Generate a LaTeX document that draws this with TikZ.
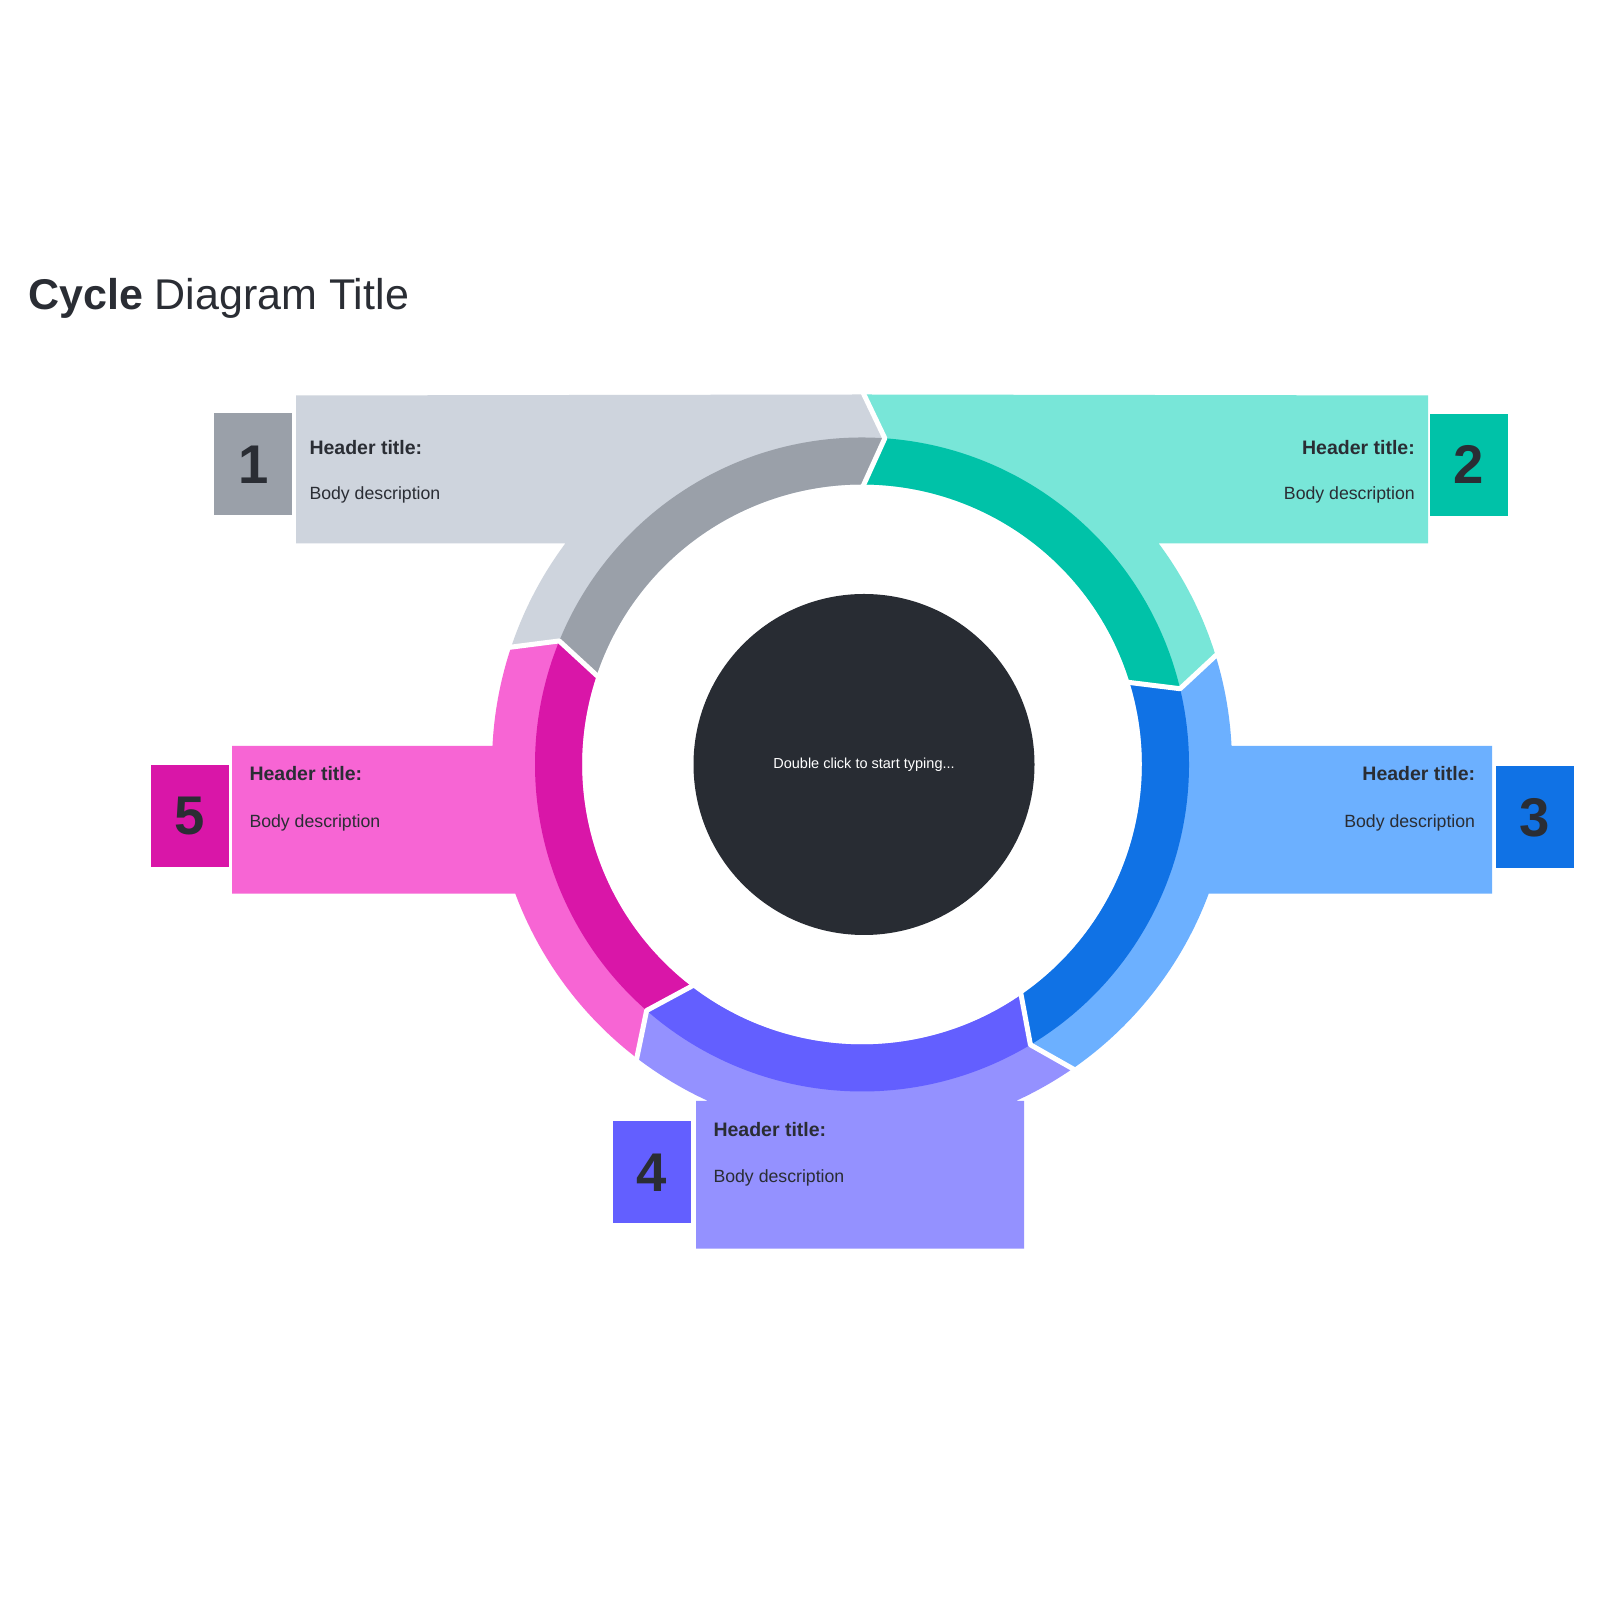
\documentclass[tikz,border=0pt]{standalone}
\usepackage{fontspec}
\setmainfont{Liberation Sans}
\usetikzlibrary{calc}
\definecolor{grayL}{HTML}{CED4DD}
\definecolor{grayD}{HTML}{9AA0A9}
\definecolor{tealL}{HTML}{78E6D8}
\definecolor{tealD}{HTML}{00C2A8}
\definecolor{blueL}{HTML}{6CB0FF}
\definecolor{blueD}{HTML}{1072E5}
\definecolor{purpL}{HTML}{9491FF}
\definecolor{purpD}{HTML}{635FFF}
\definecolor{magL}{HTML}{F765D4}
\definecolor{magD}{HTML}{D916A8}
\definecolor{hub}{HTML}{282C33}
\definecolor{txt}{HTML}{2A2D34}
\begin{document}
\begin{tikzpicture}[x=1pt,y=1pt,
  gapline/.style={draw=white, line width=5pt, line join=round},
  numbox/.style={minimum width=78pt, minimum height=102pt, inner sep=0pt,
    font=\fontsize{54.5}{60}\selectfont\bfseries, text=txt},
  hdr/.style={inner sep=0pt, font=\fontsize{19.5}{23}\selectfont\bfseries, text=txt},
  bdy/.style={inner sep=0pt, font=\fontsize{17.7}{21}\selectfont, text=txt}]
\useasboundingbox (0,0) rectangle (1600,1600);
\fill[white] (0,0) rectangle (1600,1600);

\begin{scope}[shift={(862,835.5)}]
% segment 1 (gray)
\fill[grayL] (161.8:280pt) -- (157.8:327pt) -- (161.8:370pt)
  arc[start angle=161.8, end angle=143.32, radius=370pt]
  -- (-566,221) -- (-566,369) -- (90:370pt) -- (86:327pt) -- (90:280pt)
  arc[start angle=90, end angle=161.8, radius=280pt] -- cycle;
\fill[grayD] (161.8:280pt) -- (157.8:327pt)
  arc[start angle=157.8, end angle=86, radius=327pt] -- (90:280pt)
  arc[start angle=90, end angle=161.8, radius=280pt] -- cycle;
% segment 2 (teal)
\fill[tealL] (90:280pt) -- (86:327pt) -- (90:370pt) -- (566,369) -- (566,221)
  -- (36.68:370pt) arc[start angle=36.68, end angle=17.4, radius=370pt]
  -- (13.4:327pt) -- (17.4:280pt)
  arc[start angle=17.4, end angle=90, radius=280pt] -- cycle;
\fill[tealD] (90:280pt) -- (86:327pt)
  arc[start angle=86, end angle=13.4, radius=327pt] -- (17.4:280pt)
  arc[start angle=17.4, end angle=90, radius=280pt] -- cycle;
% segment 3 (blue)
\fill[blueL] (17.4:280pt) -- (13.4:327pt) -- (17.4:370pt)
  arc[start angle=17.4, end angle=2.866, radius=370pt]
  -- (630,18.5) -- (630,-129.2) -- (-20.44:370pt)
  arc[start angle=-20.44, end angle=-55, radius=370pt]
  -- (-59:327pt) -- (-55:280pt)
  arc[start angle=-55, end angle=17.4, radius=280pt] -- cycle;
\fill[blueD] (17.4:280pt) -- (13.4:327pt)
  arc[start angle=13.4, end angle=-59, radius=327pt] -- (-55:280pt)
  arc[start angle=-55, end angle=17.4, radius=280pt] -- cycle;
% segment 4 (purple)
\fill[purpL] (-55:280pt) -- (-59:327pt) -- (-55:370pt)
  arc[start angle=-55, end angle=-65.42, radius=370pt]
  -- (162,-336.5) -- (162,-484.2) -- (-166,-484.2) -- (-166,-336.5)
  -- (-114.58:370pt) arc[start angle=-114.58, end angle=-127.2, radius=370pt]
  -- (-131.2:327pt) -- (-127.2:280pt)
  arc[start angle=-127.2, end angle=-55, radius=280pt] -- cycle;
\fill[purpD] (-55:280pt) -- (-59:327pt)
  arc[start angle=-59, end angle=-131.2, radius=327pt] -- (-127.2:280pt)
  arc[start angle=-127.2, end angle=-55, radius=280pt] -- cycle;
% segment 5 (magenta)
\fill[magL] (232.8:280pt) -- (228.8:327pt) -- (232.8:370pt)
  arc[start angle=232.8, end angle=200.44, radius=370pt]
  -- (-630,-129.2) -- (-630,18.5) -- (177.134:370pt)
  arc[start angle=177.134, end angle=161.8, radius=370pt]
  -- (157.8:327pt) -- (161.8:280pt)
  arc[start angle=161.8, end angle=232.8, radius=280pt] -- cycle;
\fill[magD] (232.8:280pt) -- (228.8:327pt)
  arc[start angle=228.8, end angle=157.8, radius=327pt] -- (161.8:280pt)
  arc[start angle=161.8, end angle=232.8, radius=280pt] -- cycle;
% white gaps
\draw[gapline] (90:276pt) -- (86:327pt) -- (90:374pt);
\draw[gapline] (17.4:276pt) -- (13.4:327pt) -- (17.4:374pt);
\draw[gapline] (-55:276pt) -- (-59:327pt) -- (-55:374pt);
\draw[gapline] (-127.2:276pt) -- (-131.2:327pt) -- (-127.2:374pt);
\draw[gapline] (161.8:276pt) -- (157.8:327pt) -- (161.8:374pt);
\end{scope}

% hub
\node[circle, fill=hub, minimum size=341pt, inner sep=0pt, text=white,
  font=\fontsize{14.5}{17}\selectfont] (hubc) at (864,835.5) {Double click to start typing...};

% title
\node[anchor=base west, inner sep=0pt, text=txt, font=\fontsize{43}{50}\selectfont]
  (title) at (28,1290.7) {\textbf{Cycle} Diagram Title};

% number boxes
\node[numbox, fill=grayD] (n1) at (253.3,1135.5) {1};
\node[numbox, fill=tealD] (n2) at (1468.9,1135.1) {2};
\node[numbox, fill=blueD] (n3) at (1535,782.7) {3};
\node[numbox, fill=purpD] (n4) at (652,427.5) {4};
\node[numbox, fill=magD] (n5) at (190,784.2) {5};

% texts
\node[hdr, anchor=base west] (h1) at (309.3,1145.7) {Header title:};
\node[bdy, anchor=base west] (b1) at (309.3,1100) {Body description};
\node[hdr, anchor=base east] (h2) at (1415,1145.3) {Header title:};
\node[bdy, anchor=base east] (b2) at (1415,1100) {Body description};
\node[hdr, anchor=base east] (h3) at (1475.3,819) {Header title:};
\node[bdy, anchor=base east] (b3) at (1475.3,772.7) {Body description};
\node[hdr, anchor=base west] (h5) at (249.3,819) {Header title:};
\node[bdy, anchor=base west] (b5) at (249.3,772.7) {Body description};
\node[hdr, anchor=base west] (h4) at (713.3,463.3) {Header title:};
\node[bdy, anchor=base west] (b4) at (713.3,417.3) {Body description};
\end{tikzpicture}
\end{document}
